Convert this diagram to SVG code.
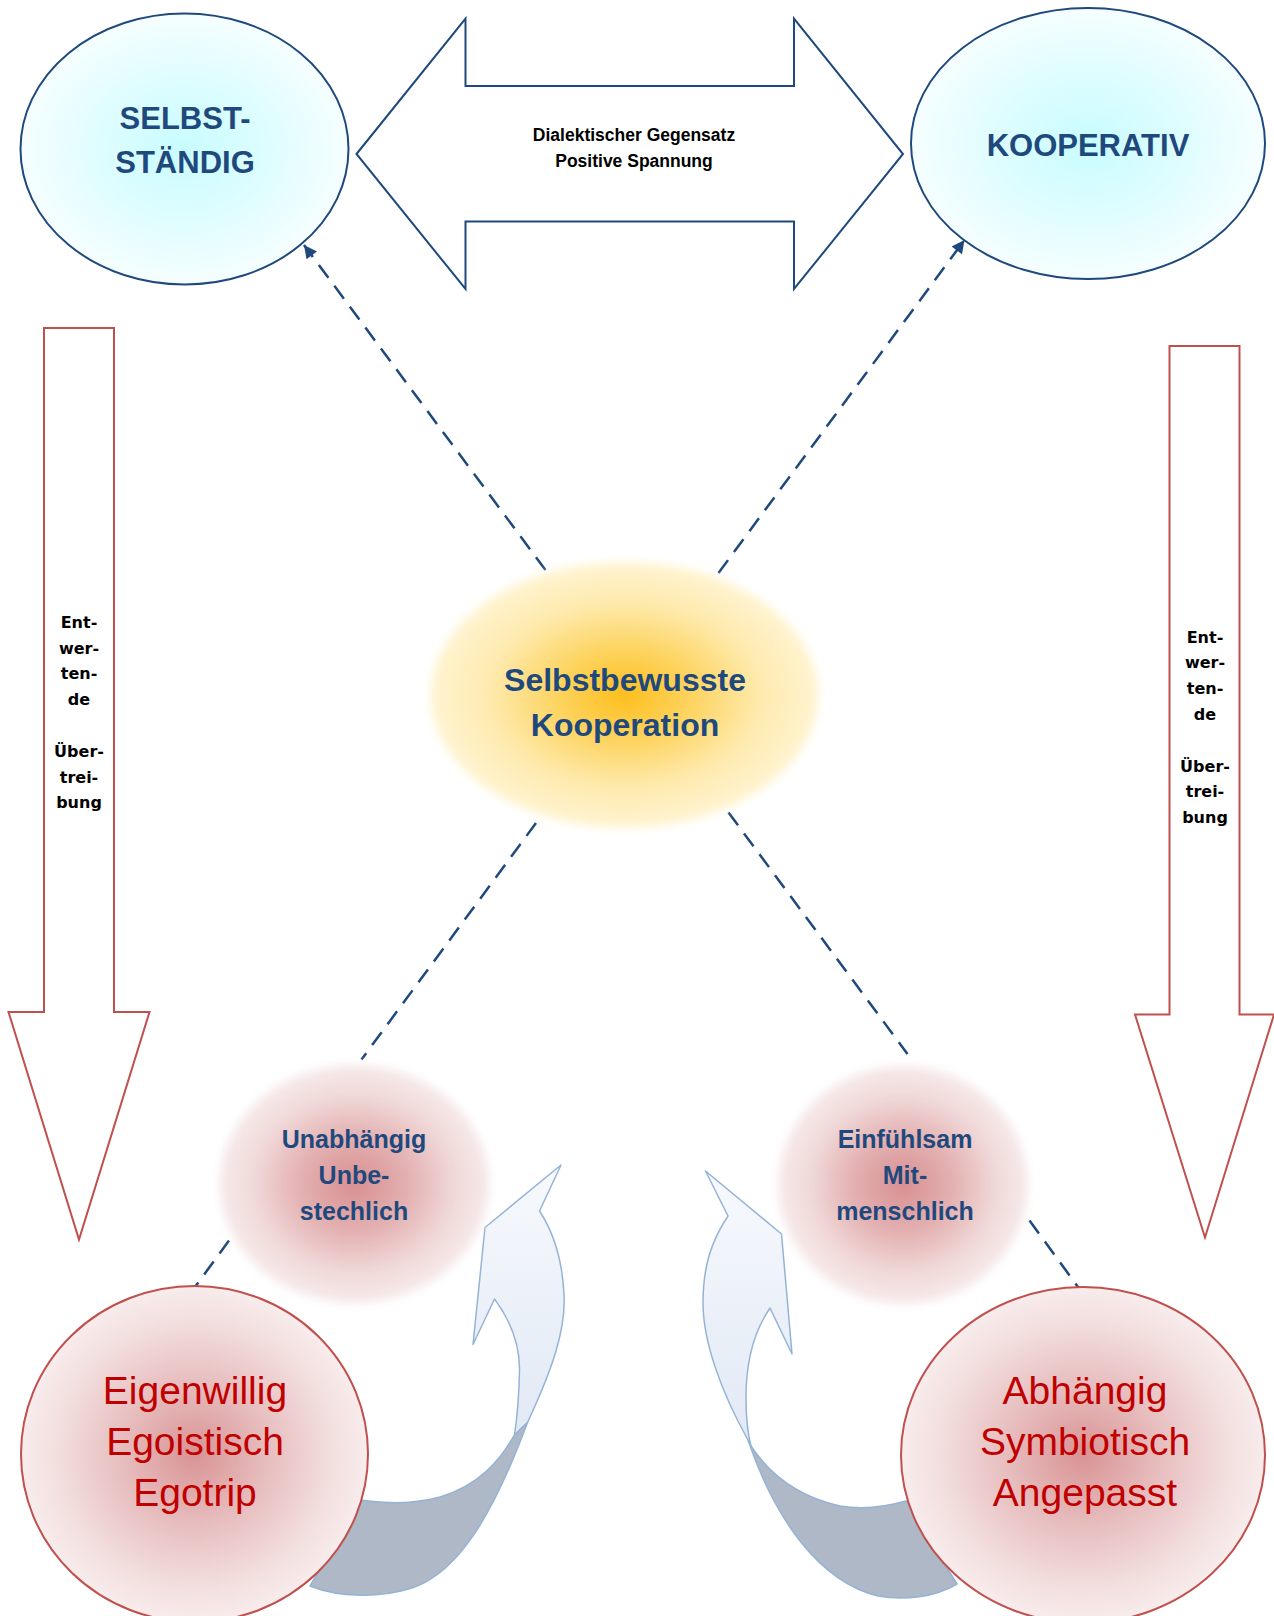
<svg xmlns="http://www.w3.org/2000/svg" width="1274" height="1616" viewBox="0 0 1274 1616">
<defs>
<style>
.lbl{font-family:"Liberation Sans",Arial,sans-serif;font-weight:bold;fill:#1F497D;text-anchor:middle}
.red{font-family:"Liberation Sans",Arial,sans-serif;fill:#C00000;text-anchor:middle;font-size:39px}
.blk{font-family:"Liberation Sans",Arial,sans-serif;font-weight:bold;fill:#000;text-anchor:middle;font-size:17.5px}
.vt{font-family:"DejaVu Sans",Verdana,sans-serif;font-weight:bold;fill:#000;text-anchor:middle;font-size:16px}
.blueout{fill:#fff;stroke:#1F497D;stroke-width:2}
.redout{fill:#fff;stroke:#C0504D;stroke-width:2}
.dash{fill:none;stroke:#1F497D;stroke-width:2.5;stroke-dasharray:16 10}
.curve{stroke:#95B3D7;stroke-width:1.5;stroke-linejoin:round}
</style>
<radialGradient id="cyan" cx="0.5" cy="0.5" r="0.5">
<stop offset="0" stop-color="#C8FCFF"/>
<stop offset="0.6" stop-color="#E2FDFF"/>
<stop offset="1" stop-color="#F6FEFF"/>
</radialGradient>
<radialGradient id="sun" cx="0.5" cy="0.5" r="0.5">
<stop offset="0" stop-color="#FDBE1C"/>
<stop offset="0.35" stop-color="#FDD460"/>
<stop offset="0.7" stop-color="#FEEAAE"/>
<stop offset="1" stop-color="#FFF4D2"/>
</radialGradient>
<radialGradient id="pink" cx="0.5" cy="0.5" r="0.5">
<stop offset="0" stop-color="#D98F90"/>
<stop offset="0.4" stop-color="#E3B0B1"/>
<stop offset="0.75" stop-color="#F1D9D9"/>
<stop offset="1" stop-color="#F6EAEA"/>
</radialGradient>
<radialGradient id="bigpink" cx="0.5" cy="0.5" r="0.5">
<stop offset="0" stop-color="#D99394"/>
<stop offset="0.45" stop-color="#E8C0C1"/>
<stop offset="0.8" stop-color="#F3DFDF"/>
<stop offset="1" stop-color="#F8ECEC"/>
</radialGradient>
<linearGradient id="pale" x1="0" y1="0" x2="0" y2="1">
<stop offset="0" stop-color="#F7F9FD"/>
<stop offset="1" stop-color="#E1E9F4"/>
</linearGradient>
<filter id="soft" x="-20%" y="-20%" width="140%" height="140%">
<feGaussianBlur stdDeviation="5"/>
</filter>
<marker id="ah" viewBox="0 0 10 10" refX="10" refY="5" markerUnits="userSpaceOnUse" markerWidth="15" markerHeight="13" orient="auto">
<path d="M0,0 L10,5 L0,10 Z" fill="#1F497D"/>
</marker>
</defs>
<rect width="1274" height="1616" fill="#fff"/>

<g id="double-arrow">
<path class="blueout" d="M356.5,154 L465.5,18.5 L465.5,86 L794,86 L794,18.5 L903,154 L794,289 L794,221.5 L465.5,221.5 L465.5,289 Z"/>
<text class="blk" x="634" y="141">Dialektischer Gegensatz</text>
<text class="blk" x="634" y="167">Positive Spannung</text>
</g>

<g id="left-down-arrow">
<path class="redout" d="M44,328 L114,328 L114,1012 L149.5,1012 L79,1239.5 L8.5,1012 L44,1012 Z"/>
<text class="vt" x="79" y="628">Ent-</text>
<text class="vt" x="79" y="653.5">wer-</text>
<text class="vt" x="79" y="679">ten-</text>
<text class="vt" x="79" y="705">de</text>
<text class="vt" x="79" y="757">Über-</text>
<text class="vt" x="79" y="782.5">trei-</text>
<text class="vt" x="79" y="808">bung</text>
</g>

<g id="right-down-arrow">
<path class="redout" d="M1169.5,346 L1239.5,346 L1239.5,1014.5 L1274,1014.5 L1205,1237.5 L1135,1014.5 L1169.5,1014.5 Z"/>
<text class="vt" x="1205" y="642.5">Ent-</text>
<text class="vt" x="1205" y="668">wer-</text>
<text class="vt" x="1205" y="693.5">ten-</text>
<text class="vt" x="1205" y="719.5">de</text>
<text class="vt" x="1205" y="771.5">Über-</text>
<text class="vt" x="1205" y="797">trei-</text>
<text class="vt" x="1205" y="822.5">bung</text>
</g>

<g id="selbststaendig">
<ellipse cx="184.5" cy="149" rx="164" ry="135.5" fill="url(#cyan)" stroke="#1F497D" stroke-width="2"/>
<text class="lbl" x="185" y="128.5" font-size="31">SELBST-</text>
<text class="lbl" x="185" y="173" font-size="31">STÄNDIG</text>
</g>

<g id="kooperativ">
<ellipse cx="1088" cy="143.5" rx="177" ry="135.5" fill="url(#cyan)" stroke="#1F497D" stroke-width="2"/>
<text class="lbl" x="1088" y="155.5" font-size="31">KOOPERATIV</text>
</g>

<g id="connectors">
<line class="dash" x1="545.5" y1="570" x2="304" y2="245" marker-end="url(#ah)"/>
<line class="dash" x1="718.5" y1="573" x2="964.5" y2="240" marker-end="url(#ah)"/>
<line class="dash" x1="536" y1="823" x2="361.5" y2="1059.5"/>
<line class="dash" x1="229" y1="1240.5" x2="195" y2="1287"/>
<line class="dash" x1="728.5" y1="812.5" x2="907.5" y2="1054"/>
<line class="dash" x1="1029.5" y1="1220.5" x2="1082" y2="1292.5"/>
</g>

<g id="selbstbewusste-kooperation">
<ellipse cx="624.5" cy="695" rx="194" ry="133" fill="url(#sun)" filter="url(#soft)"/>
<text class="lbl" x="625" y="690.5" font-size="32">Selbstbewusste</text>
<text class="lbl" x="625" y="736" font-size="32">Kooperation</text>
</g>

<g id="curved-arrow-left">
<path class="curve" fill="url(#pale)" d="M527.5,1422.5 C552,1370 566,1330 564,1294 C562,1255 552,1230 539.5,1211 L561,1165 L485,1227.5 L473,1344.5 L494.5,1299 C510,1320 520,1345 519.5,1371 C519,1395 517.5,1415 514.5,1435 Z"/>
<path class="curve" fill="#AEB8C6" d="M514.5,1435 C500,1460 480,1485 440,1497 C410,1505 385,1503 360,1500 L310,1586 C340,1598 380,1598 412,1588 C460,1572 495,1510 527.5,1422.5 Z"/>
</g>

<g id="curved-arrow-right">
<path class="curve" fill="url(#pale)" d="M748,1440 C720,1390 703,1340 703,1303 C703,1265 712,1240 728,1216 L705.5,1171 L781.5,1234 L792,1354 L770,1308 C755,1330 746,1360 746,1397 C746,1420 748,1435 751,1446 Z"/>
<path class="curve" fill="#AEB8C6" d="M751,1446 C770,1475 800,1497 840,1506 C865,1510 885,1507 906,1501 L957,1584 C935,1597 905,1601 878,1596 C820,1582 775,1520 748,1440 Z"/>
</g>

<g id="unabhaengig">
<ellipse cx="354.5" cy="1184" rx="135" ry="119" fill="url(#pink)" filter="url(#soft)"/>
<text class="lbl" x="354" y="1148" font-size="25">Unabhängig</text>
<text class="lbl" x="354" y="1184" font-size="25">Unbe-</text>
<text class="lbl" x="354" y="1220" font-size="25">stechlich</text>
</g>

<g id="einfuehlsam">
<ellipse cx="903" cy="1185" rx="125" ry="119" fill="url(#pink)" filter="url(#soft)"/>
<text class="lbl" x="905" y="1148" font-size="25">Einfühlsam</text>
<text class="lbl" x="905" y="1184" font-size="25">Mit-</text>
<text class="lbl" x="905" y="1220" font-size="25">menschlich</text>
</g>

<g id="eigenwillig">
<ellipse cx="194.5" cy="1454" rx="173.5" ry="168" fill="url(#bigpink)" stroke="#C0504D" stroke-width="2"/>
<text class="red" x="195" y="1404">Eigenwillig</text>
<text class="red" x="195" y="1455">Egoistisch</text>
<text class="red" x="195" y="1506">Egotrip</text>
</g>

<g id="abhaengig">
<ellipse cx="1083" cy="1455" rx="182" ry="168" fill="url(#bigpink)" stroke="#C0504D" stroke-width="2"/>
<text class="red" x="1085" y="1404">Abhängig</text>
<text class="red" x="1085" y="1455">Symbiotisch</text>
<text class="red" x="1085" y="1506">Angepasst</text>
</g>
</svg>
